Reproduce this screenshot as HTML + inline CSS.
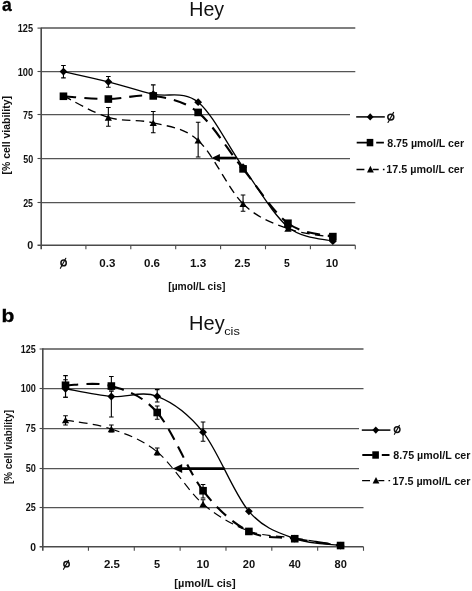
<!DOCTYPE html>
<html><head><meta charset="utf-8"><style>
html,body{margin:0;padding:0;background:#fff;}
svg{display:block;font-family:"Liberation Sans", sans-serif;will-change:transform;}
</style></head><body>
<svg width="472" height="591" viewBox="0 0 472 591">
<rect width="472" height="591" fill="#fff"/>
<g stroke="#000" stroke-width="0.35"><text x="1.97" y="11.3" font-size="19.0" text-anchor="start" font-weight="bold" fill="#000" textLength="9.76" lengthAdjust="spacingAndGlyphs">a</text></g>
<text x="189.33" y="15.7" font-size="20.8" text-anchor="start" font-weight="normal" fill="#111" textLength="34.83" lengthAdjust="spacingAndGlyphs">Hey</text>
<path d="M41,202.5H355.3" stroke="#555" stroke-width="1.25"/>
<path d="M41,158.5H350" stroke="#555" stroke-width="1.25"/>
<path d="M41,114.5H350" stroke="#555" stroke-width="1.25"/>
<path d="M41,71.5H355.3" stroke="#555" stroke-width="1.25"/>
<path d="M41,28.1H355.3" stroke="#555" stroke-width="1.5"/>
<path d="M41.2,27.68V249.3" stroke="#4a4a4a" stroke-width="1.6"/>
<path d="M37.5,245.3H355.3" stroke="#4a4a4a" stroke-width="1.5"/>
<path d="M37.5,202.5H41" stroke="#4a4a4a" stroke-width="1.1"/>
<path d="M37.5,158.5H41" stroke="#4a4a4a" stroke-width="1.1"/>
<path d="M37.5,114.5H41" stroke="#4a4a4a" stroke-width="1.1"/>
<path d="M37.5,71.5H41" stroke="#4a4a4a" stroke-width="1.1"/>
<path d="M37.5,28.1H41" stroke="#4a4a4a" stroke-width="1.1"/>
<path d="M85.9,245.3V249.3" stroke="#4a4a4a" stroke-width="1.1"/>
<path d="M130.8,245.3V249.3" stroke="#4a4a4a" stroke-width="1.1"/>
<path d="M175.7,245.3V249.3" stroke="#4a4a4a" stroke-width="1.1"/>
<path d="M220.6,245.3V249.3" stroke="#4a4a4a" stroke-width="1.1"/>
<path d="M265.5,245.3V249.3" stroke="#4a4a4a" stroke-width="1.1"/>
<path d="M310.4,245.3V249.3" stroke="#4a4a4a" stroke-width="1.1"/>
<path d="M355.3,245.3V249.3" stroke="#4a4a4a" stroke-width="1.1"/>
<text x="27.27" y="249.4" font-size="10.4" text-anchor="start" font-weight="bold" fill="#111" textLength="5.97" lengthAdjust="spacingAndGlyphs">0</text>
<text x="23.19" y="206.6" font-size="10.4" text-anchor="start" font-weight="bold" fill="#111" textLength="9.85" lengthAdjust="spacingAndGlyphs">25</text>
<text x="23.23" y="162.6" font-size="10.4" text-anchor="start" font-weight="bold" fill="#111" textLength="9.95" lengthAdjust="spacingAndGlyphs">50</text>
<text x="23.1" y="118.6" font-size="10.4" text-anchor="start" font-weight="bold" fill="#111" textLength="9.95" lengthAdjust="spacingAndGlyphs">75</text>
<text x="17.7" y="75.6" font-size="10.4" text-anchor="start" font-weight="bold" fill="#111" textLength="15.51" lengthAdjust="spacingAndGlyphs">100</text>
<text x="17.7" y="32.2" font-size="10.4" text-anchor="start" font-weight="bold" fill="#111" textLength="15.36" lengthAdjust="spacingAndGlyphs">125</text>
<ellipse cx="63.6" cy="262.9" rx="2.65" ry="2.9" fill="none" stroke="#111" stroke-width="1.5"/><path d="M60.4,268.3L65.8,258.3" stroke="#111" stroke-width="1.15" stroke-linecap="round"/>
<text x="99.29" y="267" font-size="10.1" text-anchor="start" font-weight="bold" fill="#111" textLength="16.07" lengthAdjust="spacingAndGlyphs">0.3</text>
<text x="143.99" y="267" font-size="10.1" text-anchor="start" font-weight="bold" fill="#111" textLength="16.07" lengthAdjust="spacingAndGlyphs">0.6</text>
<text x="189.98" y="267" font-size="10.1" text-anchor="start" font-weight="bold" fill="#111" textLength="16.38" lengthAdjust="spacingAndGlyphs">1.3</text>
<text x="234.45" y="267" font-size="10.1" text-anchor="start" font-weight="bold" fill="#111" textLength="15.89" lengthAdjust="spacingAndGlyphs">2.5</text>
<text x="284.04" y="267" font-size="10.1" text-anchor="start" font-weight="bold" fill="#111" textLength="5.78" lengthAdjust="spacingAndGlyphs">5</text>
<text x="325.87" y="267" font-size="10.1" text-anchor="start" font-weight="bold" fill="#111" textLength="12.51" lengthAdjust="spacingAndGlyphs">10</text>
<path d="M63.45,95.92C70.93,99.51 93.38,112.97 108.35,117.46" fill="none" stroke="#000" stroke-width="1.35" stroke-dasharray="8.5 5.3"/>
<path d="M108.35,117.46C123.32,121.94 138.28,119.02 153.25,122.84" fill="none" stroke="#000" stroke-width="1.35" stroke-dasharray="8.5 5.3"/>
<path d="M153.25,122.84C168.22,126.66 183.18,126.89 198.15,140.39" fill="none" stroke="#000" stroke-width="1.35" stroke-dasharray="8.5 5.3"/>
<path d="M198.15,140.39C213.12,153.88 228.08,189.08 243.05,203.79" fill="none" stroke="#000" stroke-width="1.35" stroke-dasharray="8.5 5.3"/>
<path d="M243.05,203.79C258.02,218.49 272.98,223.04 287.95,228.62" fill="none" stroke="#000" stroke-width="1.35" stroke-dasharray="8.5 5.3"/>
<path d="M287.95,228.62C302.92,234.21 325.37,235.86 332.85,237.31" fill="none" stroke="#000" stroke-width="1.35" stroke-dasharray="8.5 5.3"/>
<path d="M63.45,96.27C70.93,96.73 93.38,99.1 108.35,99.04" fill="none" stroke="#000" stroke-width="2.1" stroke-dasharray="13 8"/>
<path d="M108.35,99.04C123.32,98.99 138.28,93.69 153.25,95.92" fill="none" stroke="#000" stroke-width="2.1" stroke-dasharray="13 8"/>
<path d="M153.25,95.92C168.22,98.15 183.18,100.26 198.15,112.42" fill="none" stroke="#000" stroke-width="2.1" stroke-dasharray="13 8"/>
<path d="M198.15,112.42C213.12,124.58 228.08,150.4 243.05,168.87" fill="none" stroke="#000" stroke-width="2.1" stroke-dasharray="13 8"/>
<path d="M243.05,168.87C258.02,187.34 272.98,211.95 287.95,223.24" fill="none" stroke="#000" stroke-width="2.1" stroke-dasharray="13 8"/>
<path d="M287.95,223.24C302.92,234.53 325.37,234.39 332.85,236.62" fill="none" stroke="#000" stroke-width="2.1" stroke-dasharray="13 8"/>
<path d="M63.45,71.6C70.93,73.31 93.38,78.08 108.35,81.85C123.32,85.61 138.28,90.79 153.25,94.18C168.22,97.57 183.18,90.01 198.15,102.17C213.12,114.33 228.08,146.35 243.05,167.13C258.02,187.92 272.98,214.56 287.95,226.89C302.92,239.22 325.37,238.76 332.85,241.13" fill="none" stroke="#000" stroke-width="1.3"/>
<path d="M63.45,65.5V77.9M61.15,65.5H65.75M61.15,77.9H65.75" stroke="#000" stroke-width="1.1" fill="none"/>
<path d="M108.35,76.5V87.2M106.05,76.5H110.65M106.05,87.2H110.65" stroke="#000" stroke-width="1.1" fill="none"/>
<path d="M153.25,84.9V97M150.95,84.9H155.55M150.95,97H155.55" stroke="#000" stroke-width="1.1" fill="none"/>
<path d="M108.35,107.5V126.2M106.05,107.5H110.65M106.05,126.2H110.65" stroke="#000" stroke-width="1.1" fill="none"/>
<path d="M153.25,111.5V132.7M150.95,111.5H155.55M150.95,132.7H155.55" stroke="#000" stroke-width="1.1" fill="none"/>
<path d="M198.15,122.2V157M195.85,122.2H200.45M195.85,157H200.45" stroke="#000" stroke-width="1.1" fill="none"/>
<path d="M243.05,195V211.2M240.75,195H245.35M240.75,211.2H245.35" stroke="#000" stroke-width="1.1" fill="none"/>
<path d="M63.45,92.72L67.05,99.12L59.85,99.12Z" fill="#000"/>
<path d="M108.35,114.26L111.95,120.66L104.75,120.66Z" fill="#000"/>
<path d="M153.25,119.64L156.85,126.04L149.65,126.04Z" fill="#000"/>
<path d="M198.15,137.19L201.75,143.59L194.55,143.59Z" fill="#000"/>
<path d="M243.05,200.59L246.65,206.99L239.45,206.99Z" fill="#000"/>
<path d="M287.95,225.42L291.55,231.82L284.35,231.82Z" fill="#000"/>
<path d="M332.85,234.11L336.45,240.51L329.25,240.51Z" fill="#000"/>
<rect x="59.65" y="92.47" width="7.6" height="7.6" fill="#000"/>
<rect x="104.55" y="95.24" width="7.6" height="7.6" fill="#000"/>
<rect x="149.45" y="92.12" width="7.6" height="7.6" fill="#000"/>
<rect x="194.35" y="108.62" width="7.6" height="7.6" fill="#000"/>
<rect x="239.25" y="165.07" width="7.6" height="7.6" fill="#000"/>
<rect x="284.15" y="219.44" width="7.6" height="7.6" fill="#000"/>
<rect x="329.05" y="232.81" width="7.6" height="7.6" fill="#000"/>
<path d="M63.45,67.7L67.35,71.6L63.45,75.5L59.55,71.6Z" fill="#000"/>
<path d="M108.35,77.95L112.25,81.85L108.35,85.75L104.45,81.85Z" fill="#000"/>
<path d="M153.25,90.28L157.15,94.18L153.25,98.08L149.35,94.18Z" fill="#000"/>
<path d="M198.15,98.27L202.05,102.17L198.15,106.07L194.25,102.17Z" fill="#000"/>
<path d="M243.05,163.23L246.95,167.13L243.05,171.03L239.15,167.13Z" fill="#000"/>
<path d="M287.95,222.99L291.85,226.89L287.95,230.79L284.05,226.89Z" fill="#000"/>
<path d="M332.85,237.23L336.75,241.13L332.85,245.03L328.95,241.13Z" fill="#000"/>
<path d="M217.5,158H236.3" stroke="#000" stroke-width="2.6"/>
<path d="M211.5,158L219.9,153.9L219.9,162.1Z" fill="#000"/>
<path d="M356.2,116.9H384.8" stroke="#000" stroke-width="1.5"/>
<path d="M370.2,113.2L373.6,116.9L370.2,120.6L366.8,116.9Z" fill="#000"/>
<path d="M356.7,142.6H367.2M376.2,142.6H383.9" stroke="#000" stroke-width="1.8"/>
<rect x="366.7" y="138.9" width="6.6" height="7.4" fill="#000"/>
<path d="M356.5,169.4H364.4M372.7,169.4H378.7M382.9,169.4H384.5" stroke="#000" stroke-width="1.4500000000000002"/>
<path d="M370.4,165.8L373.8,172.4L367,172.4Z" fill="#000"/>
<ellipse cx="390.8" cy="117.1" rx="3" ry="2.85" fill="none" stroke="#111" stroke-width="1.5"/><path d="M388,122.5L393.6,112.4" stroke="#111" stroke-width="1.15" stroke-linecap="round"/>
<text x="387.28" y="146.5" font-size="10.8" text-anchor="start" font-weight="bold" fill="#111" textLength="76.76" lengthAdjust="spacingAndGlyphs">8.75 µmol/L cer</text>
<text x="386.3" y="173.3" font-size="10.8" text-anchor="start" font-weight="bold" fill="#111" textLength="77.74" lengthAdjust="spacingAndGlyphs">17.5 µmol/L cer</text>
<text x="168.24" y="289.5" font-size="10.9" text-anchor="start" font-weight="bold" fill="#111" textLength="57.07" lengthAdjust="spacingAndGlyphs">[µmol/L cis]</text>
<g transform="translate(10.1,174) rotate(-90)"><text x="-0.58" y="0" font-size="11.3" text-anchor="start" font-weight="bold" fill="#111" textLength="78.58" lengthAdjust="spacingAndGlyphs">[% cell viability]</text></g>
<g stroke="#000" stroke-width="0.35"><text x="1.64" y="321.8" font-size="18.8" text-anchor="start" font-weight="bold" fill="#000" textLength="12.82" lengthAdjust="spacingAndGlyphs">b</text></g>
<text x="189.1" y="330.3" font-size="20.2" text-anchor="start" font-weight="normal" fill="#111" textLength="35.57" lengthAdjust="spacingAndGlyphs">Hey</text>
<text x="224.22" y="334.8" font-size="11" text-anchor="start" font-weight="normal" fill="#111" textLength="15.65" lengthAdjust="spacingAndGlyphs">cis</text>
<path d="M42.6,507.5H363.5" stroke="#555" stroke-width="1.25"/>
<path d="M42.6,468.5H359" stroke="#555" stroke-width="1.25"/>
<path d="M42.6,428.5H359" stroke="#555" stroke-width="1.25"/>
<path d="M42.6,388.5H363.5" stroke="#555" stroke-width="1.25"/>
<path d="M42.6,349H363.5" stroke="#555" stroke-width="1.5"/>
<path d="M42.8,348.32V550.8" stroke="#4a4a4a" stroke-width="1.6"/>
<path d="M39.6,546.8H363.5" stroke="#4a4a4a" stroke-width="1.5"/>
<path d="M39.6,507.5H42.6" stroke="#4a4a4a" stroke-width="1.1"/>
<path d="M39.6,468.5H42.6" stroke="#4a4a4a" stroke-width="1.1"/>
<path d="M39.6,428.5H42.6" stroke="#4a4a4a" stroke-width="1.1"/>
<path d="M39.6,388.5H42.6" stroke="#4a4a4a" stroke-width="1.1"/>
<path d="M39.6,349H42.6" stroke="#4a4a4a" stroke-width="1.1"/>
<path d="M88.44,546.8V550.8" stroke="#4a4a4a" stroke-width="1.1"/>
<path d="M134.29,546.8V550.8" stroke="#4a4a4a" stroke-width="1.1"/>
<path d="M180.13,546.8V550.8" stroke="#4a4a4a" stroke-width="1.1"/>
<path d="M225.97,546.8V550.8" stroke="#4a4a4a" stroke-width="1.1"/>
<path d="M271.81,546.8V550.8" stroke="#4a4a4a" stroke-width="1.1"/>
<path d="M317.66,546.8V550.8" stroke="#4a4a4a" stroke-width="1.1"/>
<path d="M363.5,546.8V550.8" stroke="#4a4a4a" stroke-width="1.1"/>
<text x="30.19" y="550.7" font-size="10.0" text-anchor="start" font-weight="bold" fill="#111" textLength="5.74" lengthAdjust="spacingAndGlyphs">0</text>
<text x="25.68" y="511.4" font-size="10.0" text-anchor="start" font-weight="bold" fill="#111" textLength="10.06" lengthAdjust="spacingAndGlyphs">25</text>
<text x="25.73" y="472.4" font-size="10.0" text-anchor="start" font-weight="bold" fill="#111" textLength="10.16" lengthAdjust="spacingAndGlyphs">50</text>
<text x="25.59" y="432.4" font-size="10.0" text-anchor="start" font-weight="bold" fill="#111" textLength="10.16" lengthAdjust="spacingAndGlyphs">75</text>
<text x="20.71" y="392.4" font-size="10.0" text-anchor="start" font-weight="bold" fill="#111" textLength="15.19" lengthAdjust="spacingAndGlyphs">100</text>
<text x="20.71" y="352.9" font-size="10.0" text-anchor="start" font-weight="bold" fill="#111" textLength="15.04" lengthAdjust="spacingAndGlyphs">125</text>
<ellipse cx="66.55" cy="564.2" rx="2.7" ry="2.65" fill="none" stroke="#111" stroke-width="1.5"/><path d="M63.5,569.3L68.5,560.4" stroke="#111" stroke-width="1.15" stroke-linecap="round"/>
<text x="103.91" y="568.3" font-size="10.1" text-anchor="start" font-weight="bold" fill="#111" textLength="15.99" lengthAdjust="spacingAndGlyphs">2.5</text>
<text x="154.13" y="568.3" font-size="10.1" text-anchor="start" font-weight="bold" fill="#111" textLength="6.12" lengthAdjust="spacingAndGlyphs">5</text>
<text x="196.56" y="568.3" font-size="10.1" text-anchor="start" font-weight="bold" fill="#111" textLength="12.73" lengthAdjust="spacingAndGlyphs">10</text>
<text x="242.75" y="568.3" font-size="10.1" text-anchor="start" font-weight="bold" fill="#111" textLength="12.36" lengthAdjust="spacingAndGlyphs">20</text>
<text x="288.82" y="568.3" font-size="10.1" text-anchor="start" font-weight="bold" fill="#111" textLength="12.13" lengthAdjust="spacingAndGlyphs">40</text>
<text x="334.5" y="568.3" font-size="10.1" text-anchor="start" font-weight="bold" fill="#111" textLength="12.3" lengthAdjust="spacingAndGlyphs">80</text>
<path d="M65.52,420.1C73.16,421.57 96.08,423.66 111.36,428.97" fill="none" stroke="#000" stroke-width="1.15" stroke-dasharray="8.5 5.3"/>
<path d="M111.36,428.97C126.65,434.27 141.93,439.42 157.21,451.93" fill="none" stroke="#000" stroke-width="1.15" stroke-dasharray="8.5 5.3"/>
<path d="M157.21,451.93C172.49,464.44 187.77,490.87 203.05,504.04" fill="none" stroke="#000" stroke-width="1.15" stroke-dasharray="8.5 5.3"/>
<path d="M203.05,504.04C218.33,517.21 233.61,525.29 248.89,530.96" fill="none" stroke="#000" stroke-width="1.15" stroke-dasharray="8.5 5.3"/>
<path d="M248.89,530.96C264.17,536.64 279.45,535.66 294.74,538.09" fill="none" stroke="#000" stroke-width="1.15" stroke-dasharray="8.5 5.3"/>
<path d="M294.74,538.09C310.02,540.52 332.94,544.29 340.58,545.53" fill="none" stroke="#000" stroke-width="1.15" stroke-dasharray="8.5 5.3"/>
<path d="M65.52,385.25C73.16,385.38 96.08,381.5 111.36,386.04" fill="none" stroke="#000" stroke-width="2.1" stroke-dasharray="13 8"/>
<path d="M111.36,386.04C126.65,390.58 141.93,395.05 157.21,412.49" fill="none" stroke="#000" stroke-width="2.1" stroke-dasharray="13 8"/>
<path d="M157.21,412.49C172.49,429.94 187.77,470.91 203.05,490.73" fill="none" stroke="#000" stroke-width="2.1" stroke-dasharray="12.3 7.7"/>
<path d="M203.05,490.73C218.33,510.56 233.61,523.44 248.89,531.44" fill="none" stroke="#000" stroke-width="2.1" stroke-dasharray="13 8"/>
<path d="M248.89,531.44C264.17,539.44 279.45,536.37 294.74,538.72" fill="none" stroke="#000" stroke-width="2.1" stroke-dasharray="13 8"/>
<path d="M294.74,538.72C310.02,541.07 332.94,544.4 340.58,545.53" fill="none" stroke="#000" stroke-width="2.1" stroke-dasharray="13 8"/>
<path d="M65.52,388.74C73.16,390.03 96.08,395.23 111.36,396.5C126.65,397.76 141.93,390.4 157.21,396.34C172.49,402.28 187.77,412.97 203.05,432.13C218.33,451.3 233.61,493.58 248.89,511.32C264.17,529.06 279.45,532.86 294.74,538.56C310.02,544.27 332.94,544.37 340.58,545.53" fill="none" stroke="#000" stroke-width="1.3"/>
<path d="M65.52,375.6V397.2M63.22,375.6H67.82M63.22,397.2H67.82" stroke="#000" stroke-width="1.1" fill="none"/>
<path d="M65.52,379.8V397.2M63.22,379.8H67.82M63.22,397.2H67.82" stroke="#000" stroke-width="1.1" fill="none"/>
<path d="M111.36,376.5V390M109.06,376.5H113.66M109.06,390H113.66" stroke="#000" stroke-width="1.1" fill="none"/>
<path d="M111.36,391.3V417M109.06,391.3H113.66M109.06,417H113.66" stroke="#000" stroke-width="1.1" fill="none"/>
<path d="M157.21,389.6V402M154.91,389.6H159.51M154.91,402H159.51" stroke="#000" stroke-width="1.1" fill="none"/>
<path d="M157.21,406V419.2M154.91,406H159.51M154.91,419.2H159.51" stroke="#000" stroke-width="1.1" fill="none"/>
<path d="M203.05,422V441.2M200.75,422H205.35M200.75,441.2H205.35" stroke="#000" stroke-width="1.1" fill="none"/>
<path d="M203.05,484.5V498M200.75,484.5H205.35M200.75,498H205.35" stroke="#000" stroke-width="1.1" fill="none"/>
<path d="M203.05,499.8V505M200.75,499.8H205.35M200.75,505H205.35" stroke="#000" stroke-width="1.1" fill="none"/>
<path d="M65.52,415.8V425M63.22,415.8H67.82M63.22,425H67.82" stroke="#000" stroke-width="1.1" fill="none"/>
<path d="M111.36,425V432M109.06,425H113.66M109.06,432H113.66" stroke="#000" stroke-width="1.1" fill="none"/>
<path d="M157.21,448V455M154.91,448H159.51M154.91,455H159.51" stroke="#000" stroke-width="1.1" fill="none"/>
<path d="M65.52,416.9L69.12,423.3L61.92,423.3Z" fill="#000"/>
<path d="M111.36,425.77L114.96,432.17L107.76,432.17Z" fill="#000"/>
<path d="M157.21,448.73L160.81,455.13L153.61,455.13Z" fill="#000"/>
<path d="M203.05,500.84L206.65,507.24L199.45,507.24Z" fill="#000"/>
<path d="M248.89,527.76L252.49,534.16L245.29,534.16Z" fill="#000"/>
<path d="M294.74,534.89L298.34,541.29L291.14,541.29Z" fill="#000"/>
<path d="M340.58,542.33L344.18,548.73L336.98,548.73Z" fill="#000"/>
<rect x="61.72" y="381.45" width="7.6" height="7.6" fill="#000"/>
<rect x="107.56" y="382.24" width="7.6" height="7.6" fill="#000"/>
<rect x="153.41" y="408.69" width="7.6" height="7.6" fill="#000"/>
<rect x="199.25" y="486.93" width="7.6" height="7.6" fill="#000"/>
<rect x="245.09" y="527.64" width="7.6" height="7.6" fill="#000"/>
<rect x="290.94" y="534.92" width="7.6" height="7.6" fill="#000"/>
<rect x="336.78" y="541.73" width="7.6" height="7.6" fill="#000"/>
<path d="M65.52,384.84L69.42,388.74L65.52,392.64L61.62,388.74Z" fill="#000"/>
<path d="M111.36,392.6L115.26,396.5L111.36,400.4L107.46,396.5Z" fill="#000"/>
<path d="M157.21,392.44L161.11,396.34L157.21,400.24L153.31,396.34Z" fill="#000"/>
<path d="M203.05,428.23L206.95,432.13L203.05,436.03L199.15,432.13Z" fill="#000"/>
<path d="M248.89,507.42L252.79,511.32L248.89,515.22L244.99,511.32Z" fill="#000"/>
<path d="M294.74,534.66L298.64,538.56L294.74,542.46L290.84,538.56Z" fill="#000"/>
<path d="M340.58,541.63L344.48,545.53L340.58,549.43L336.68,545.53Z" fill="#000"/>
<path d="M178.8,468.6H224.6" stroke="#000" stroke-width="2.6"/>
<path d="M172.8,468.6L182.2,464.1L182.2,473.1Z" fill="#000"/>
<path d="M361.8,430.1H390.4" stroke="#000" stroke-width="1.5"/>
<path d="M375.8,426.4L379.2,430.1L375.8,433.8L372.4,430.1Z" fill="#000"/>
<path d="M362.3,455H372.8M381.8,455H389.5" stroke="#000" stroke-width="1.8"/>
<rect x="372.3" y="451.3" width="6.6" height="7.4" fill="#000"/>
<path d="M362.1,480.6H370M378.3,480.6H384.3M388.5,480.6H390.1" stroke="#000" stroke-width="1.25"/>
<path d="M376,477L379.4,483.6L372.6,483.6Z" fill="#000"/>
<ellipse cx="397.15" cy="429.6" rx="2.8" ry="2.85" fill="none" stroke="#111" stroke-width="1.5"/><path d="M394.4,434.3L399.4,425.4" stroke="#111" stroke-width="1.15" stroke-linecap="round"/>
<text x="393.38" y="458.9" font-size="10.4" text-anchor="start" font-weight="bold" fill="#111" textLength="77.06" lengthAdjust="spacingAndGlyphs">8.75 µmol/L cer</text>
<text x="392.4" y="484.5" font-size="10.4" text-anchor="start" font-weight="bold" fill="#111" textLength="78.04" lengthAdjust="spacingAndGlyphs">17.5 µmol/L cer</text>
<text x="174.39" y="586.8" font-size="10.6" text-anchor="start" font-weight="bold" fill="#111" textLength="61.25" lengthAdjust="spacingAndGlyphs">[µmol/L cis]</text>
<g transform="translate(11.5,483.4) rotate(-90)"><text x="-0.54" y="0" font-size="11.0" text-anchor="start" font-weight="bold" fill="#111" textLength="74.01" lengthAdjust="spacingAndGlyphs">[% cell viability]</text></g>
</svg>
</body></html>
